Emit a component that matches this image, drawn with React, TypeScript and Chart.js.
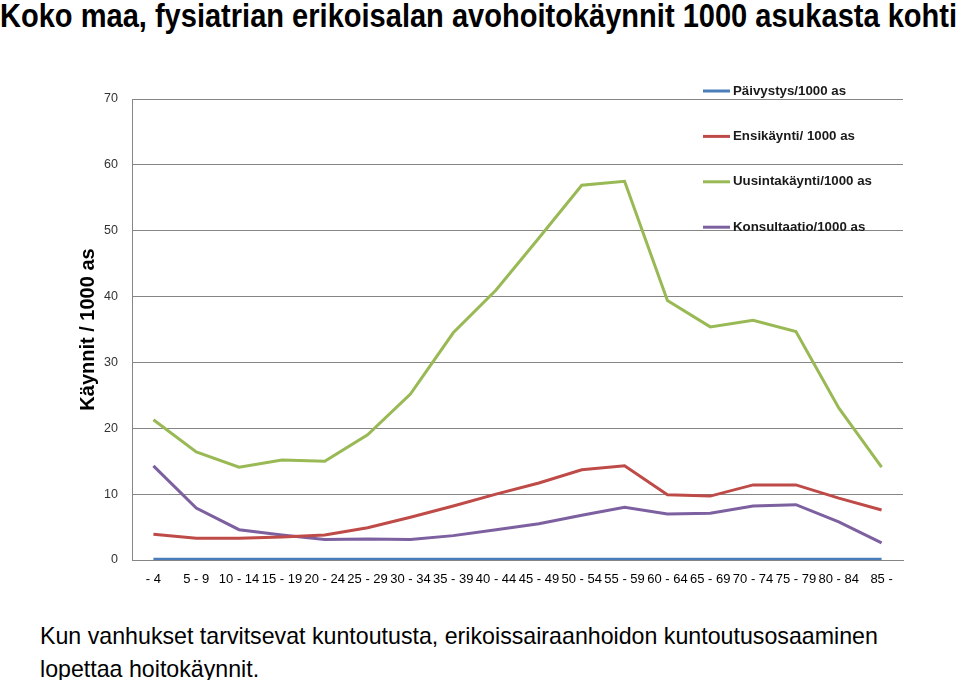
import React, { useEffect, useRef } from "react";
import { Chart, registerables } from "chart.js";

Chart.register(...registerables);

const categories = ["- 4", "5 - 9", "10 - 14", "15 - 19", "20 - 24", "25 - 29", "30 - 34", "35 - 39", "40 - 44", "45 - 49", "50 - 54", "55 - 59", "60 - 64", "65 - 69", "70 - 74", "75 - 79", "80 - 84", "85 -"];

const paivystys = [0.1, 0.1, 0.1, 0.1, 0.1, 0.1, 0.1, 0.1, 0.1, 0.1, 0.1, 0.1, 0.1, 0.1, 0.1, 0.1, 0.1, 0.1];
const ensikaynti = [3.9, 3.3, 3.3, 3.5, 3.8, 4.9, 6.5, 8.2, 10.0, 11.7, 13.7, 14.3, 9.9, 9.7, 11.4, 11.4, 9.4, 7.6];
const uusintakaynti = [21.3, 16.4, 14.1, 15.2, 15.0, 19.0, 25.2, 34.5, 41.0, 48.9, 56.9, 57.5, 39.4, 35.4, 36.4, 34.7, 23.1, 14.1];
const konsultaatio = [14.3, 7.9, 4.6, 3.8, 3.1, 3.2, 3.1, 3.7, 4.6, 5.5, 6.8, 8.0, 7.0, 7.1, 8.2, 8.4, 5.8, 2.6];

const seriesLabels = ["Päivystys/1000 as", "Ensikäynti/ 1000 as", "Uusintakäynti/1000 as", "Konsultaatio/1000 as"];
const seriesColors = ["#4a7ebb", "#be4b48", "#98b954", "#7d60a0"];
const yTicks = [0, 10, 20, 30, 40, 50, 60, 70];

const legendPlugin = {
  id: "insideLegend",
  afterDraw(chart: any) {
    const { ctx, chartArea } = chart;
    ctx.save();
    ctx.font = "bold 13.3px 'Liberation Sans', Arial, sans-serif";
    ctx.textBaseline = "middle";
    chart.data.datasets.forEach((ds: any, i: number) => {
      const y = chartArea.top - 8 + i * 45.4;
      const x0 = chartArea.right - 200;
      ctx.strokeStyle = ds.borderColor;
      ctx.lineWidth = 3;
      ctx.beginPath();
      ctx.moveTo(x0, y);
      ctx.lineTo(x0 + 27, y);
      ctx.stroke();
      ctx.fillStyle = "#1a1a1a";
      ctx.textAlign = "left";
      ctx.fillText(ds.label, x0 + 30, y);
    });
    ctx.restore();
  },
};

export default function App() {
  const ref = useRef<HTMLCanvasElement | null>(null);

  useEffect(() => {
    if (!ref.current) return;
    const data = [paivystys, ensikaynti, uusintakaynti, konsultaatio];
    const chart = new Chart(ref.current, {
      type: "line",
      data: {
        labels: categories,
        datasets: data.map((d, i) => ({
          label: seriesLabels[i],
          data: d,
          borderColor: seriesColors[i],
          backgroundColor: seriesColors[i],
          borderWidth: 3,
          pointRadius: 0,
          tension: 0,
          fill: false,
        })),
      },
      options: {
        animation: false,
        responsive: false,
        layout: { padding: { top: 59, right: 57, left: 64, bottom: 0 } },
        plugins: { legend: { display: false }, tooltip: { enabled: false } },
        scales: {
          x: {
            offset: true,
            grid: { display: false, drawTicks: false },
            border: { display: true, color: "#868686", width: 1 },
            ticks: {
              autoSkip: false,
              maxRotation: 0,
              padding: 12,
              color: "#000",
              font: { family: "'Liberation Sans', Arial, sans-serif", size: 13 },
            },
            afterFit(scale: any) {
              scale.height = 40;
            },
          },
          y: {
            min: 0,
            max: 70,
            afterBuildTicks(scale: any) {
              scale.ticks = yTicks.map((v) => ({ value: v }));
            },
            grid: { color: "#868686", drawTicks: false, lineWidth: 1 },
            border: { display: true, color: "#868686" },
            ticks: {
              padding: 14,
              color: "#333",
              font: { family: "'Liberation Sans', Arial, sans-serif", size: 12.5 },
            },
            title: {
              display: true,
              text: "Käynnit / 1000 as",
              color: "#000",
              font: { family: "'Liberation Sans', Arial, sans-serif", size: 20, weight: "bold" },
              padding: { top: 12, bottom: 0 },
            },
            afterFit(scale: any) {
              scale.width = 68;
            },
          },
        },
      },
      plugins: [legendPlugin],
    });
    return () => chart.destroy();
  }, []);

  return (
    <div style={{ position: "fixed", left: 0, top: 0, width: 960, height: 680, background: "#fff", overflow: "hidden" }}>
      <div
        style={{
          position: "absolute",
          left: 0,
          top: -2,
          whiteSpace: "nowrap",
          fontFamily: "'Liberation Sans', Arial, sans-serif",
          fontWeight: "bold",
          fontSize: 33,
          lineHeight: "36px",
          color: "#000",
          transform: "scaleX(0.88)",
          transformOrigin: "0 0",
        }}
      >
        Koko maa, fysiatrian erikoisalan avohoitokäynnit 1000 asukasta kohti
      </div>
      <canvas ref={ref} width={960} height={560} style={{ position: "absolute", left: 0, top: 40, width: 960, height: 560 }} />
      <div
        style={{
          position: "absolute",
          left: 40,
          top: 620,
          fontFamily: "'Liberation Sans', Arial, sans-serif",
          fontSize: 23.2,
          lineHeight: "33px",
          color: "#000",
          whiteSpace: "nowrap",
        }}
      >
        Kun vanhukset tarvitsevat kuntoutusta, erikoissairaanhoidon kuntoutusosaaminen
        <br />
        lopettaa hoitokäynnit.
      </div>
    </div>
  );
}
